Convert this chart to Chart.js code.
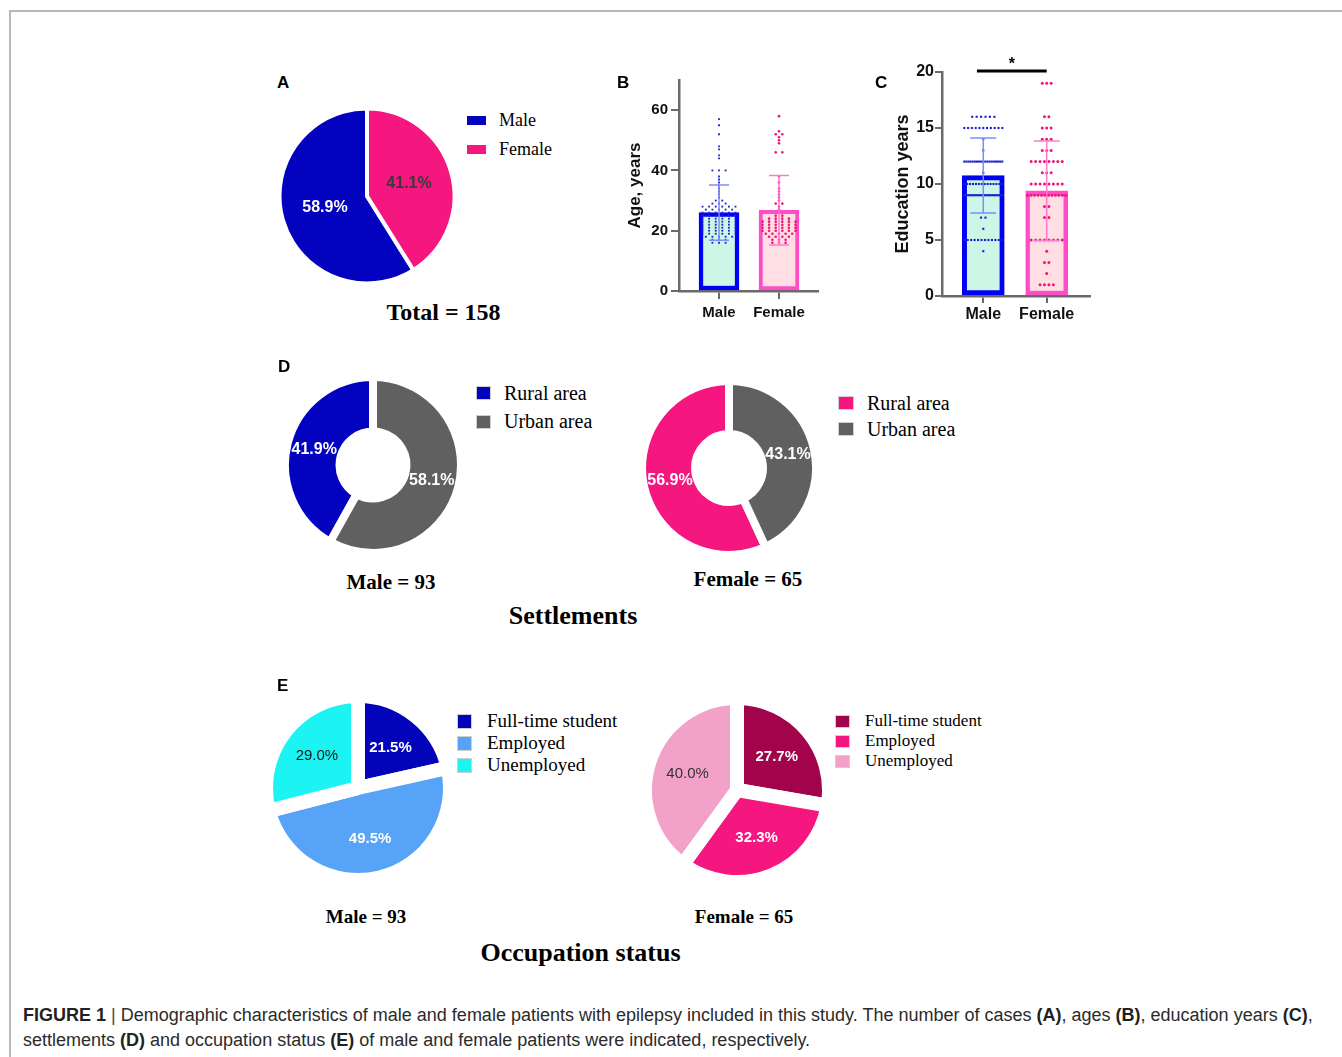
<!DOCTYPE html>
<html>
<head>
<meta charset="utf-8">
<title>Figure 1</title>
<script src="https://cdn.jsdelivr.net/npm/chart.js@4.4.1/dist/chart.umd.min.js"></script>
<style>
  html, body { margin: 0; padding: 0; background: #fff; }
  #fig { position: relative; width: 1342px; height: 1057px; overflow: hidden; background: #fff; }
  #frame { position: absolute; left: 9px; top: 10px; width: 1400px; height: 1100px;
           border-top: 2px solid #b8b8b8; border-left: 2px solid #b8b8b8; }
  canvas { position: absolute; }
  .txt { position: absolute; white-space: nowrap; color: #000; }
  .serif { font-family: "Liberation Serif", "Times New Roman", serif; }
  .sans { font-family: "Liberation Sans", Arial, sans-serif; }
  .row { position: absolute; display: flex; align-items: center; white-space: nowrap;
         font-family: "Liberation Serif", "Times New Roman", serif; color: #000; }
  .sw { display: inline-block; box-sizing: border-box; flex: none; }
  #caption { position: absolute; left: 23px; top: 1003px; width: 1315px; font-family: "Liberation Sans", Arial, sans-serif;
             font-size: 18px; line-height: 25px; color: #2b2b2b; white-space: nowrap; }
  #caption b { color: #222; }
  #caption .sep { color: #444; }
</style>
</head>
<body>
<div id="fig">
  <div id="frame"></div>
  <div id="caption"><b>FIGURE 1</b> <span class="sep">|</span> Demographic characteristics of male and female patients with epilepsy included in this study. The number of cases <b>(A)</b>, ages <b>(B)</b>, education years <b>(C)</b>,<br>settlements <b>(D)</b> and occupation status <b>(E)</b> of male and female patients were indicated, respectively.</div>
</div>
<script>
// ---- data ----
const sexLabels = ['Male', 'Female'];
const sexShare = [58.9, 41.1];
const totalCases = 158;
const groupSizes = [93, 65];

const ageTicks = [0, 20, 40, 60];
const ageMean = [26.0, 26.8];
const ageSd = [9.2, 11.5];
const maleAges = [57, 55, 52, 48, 47, 45, 44, 40, 40, 40, 38, 37, 36, 35, 34, 33, 32, 31, 30, 30, 29, 29, 29,
  28, 28, 28, 28, 28, 28, 27, 27, 27, 27, 27, 26, 26, 26, 26, 26, 26, 25, 25, 25, 25, 25, 25,
  24, 24, 24, 24, 24, 24, 23, 23, 23, 23, 23, 23, 22, 22, 22, 22, 22, 22, 21, 21, 21, 21, 21, 21,
  20, 20, 20, 20, 20, 20, 19, 19, 19, 19, 19, 19, 18, 18, 18, 18, 18, 17, 17, 17, 16, 16, 16];
const femaleAges = [58, 53, 52, 52, 51, 50, 49, 46, 46, 38, 36, 34, 33, 32, 31, 30, 29, 29, 28, 27, 25, 25,
  24, 24, 24, 24, 23, 23, 23, 23, 23, 23, 22, 22, 22, 22, 22, 22, 21, 21, 21, 21, 21, 21,
  20, 20, 20, 20, 20, 20, 19, 19, 19, 19, 19, 18, 18, 18, 18, 17, 17, 17, 16, 16, 16];

const eduTicks = [0, 5, 10, 15, 20];
const eduMean = [10.75, 9.4];
const eduSd = [3.35, 4.45];
const maleEdu = [16, 16, 16, 16, 16, 16, 15, 15, 15, 15, 15, 15, 15, 15, 15, 15, 15, 14, 13,
  12, 12, 12, 12, 12, 12, 12, 12, 12, 12, 12, 12, 12, 12, 12, 12, 12, 12, 12, 11,
  10, 10, 10, 10, 10, 10, 10, 10, 10, 10, 10, 10, 10, 10,
  9, 9, 9, 9, 9, 9, 9, 9, 9, 9, 9, 9, 9, 9, 9, 9, 9, 9, 9, 9, 9, 9, 9, 9,
  7, 7, 6, 5, 5, 5, 5, 5, 5, 5, 5, 5, 5, 5, 5, 4];
const femaleEdu = [19, 19, 19, 16, 16, 15, 15, 15, 14, 14, 14, 13, 13, 13,
  12, 12, 12, 12, 12, 12, 12, 12, 11, 11, 11, 10, 10, 10, 10, 10, 10, 10, 10,
  9, 9, 9, 9, 9, 9, 9, 9, 9, 9, 9, 9, 8, 8, 7, 7, 5, 5, 5, 5, 5, 5, 5, 5, 4, 3, 3, 2, 1, 1, 1, 1];

const areaLabels = ['Rural area', 'Urban area'];
const maleArea = [41.9, 58.1];
const femaleArea = [56.9, 43.1];

const jobLabels = ['Full-time student', 'Employed', 'Unemployed'];
const maleJob = [21.5, 49.5, 29.0];
const femaleJob = [27.7, 32.3, 40.0];

// ---- colours ----
const blue = '#0303BF', pink = '#F5167F', gray = '#606060';
const axisGray = '#6a6a6a';
const barFill = ['#CCF6E6', '#FFDEE4'];
const barEdge = ['#0000F5', '#FF4CC8'];
const dotColors = ['#1E22CC', '#EE1777'];
const errColors = ['#7F8DF7', '#FF7ACF'];

Chart.defaults.font.family = '"Liberation Sans", Arial, sans-serif';
const fig = document.getElementById('fig');

function makeCanvas(left, top, w, h) {
  const c = document.createElement('canvas');
  c.width = w; c.height = h;
  c.style.left = left + 'px'; c.style.top = top + 'px';
  fig.appendChild(c);
  return c;
}

function addText(text, x, baseline, size, cls, weight, align) {
  const d = document.createElement('div');
  d.className = 'txt ' + cls;
  const base = cls === 'serif' ? 0.8375 : 0.8465;
  d.style.fontSize = size + 'px';
  d.style.lineHeight = size + 'px';
  d.style.fontWeight = weight;
  d.style.top = (baseline - base * size) + 'px';
  if (align === 'center') {
    d.style.left = (x - 300) + 'px'; d.style.width = '600px'; d.style.textAlign = 'center';
  } else {
    d.style.left = x + 'px';
  }
  d.textContent = text;
  fig.appendChild(d);
}

function addLegend(left, centers, labels, colors, o) {
  labels.forEach((t, i) => {
    const row = document.createElement('div');
    row.className = 'row';
    row.style.left = left + 'px';
    row.style.top = (centers[i] - o.size / 2) + 'px';
    row.style.height = o.size + 'px';
    row.style.fontSize = o.size + 'px';
    const sw = document.createElement('span');
    sw.className = 'sw';
    sw.style.width = o.w + 'px'; sw.style.height = o.h + 'px';
    sw.style.background = colors[i];
    sw.style.marginRight = o.gap + 'px';
    if (o.edge) sw.style.border = '1px solid #cfcfcf';
    row.appendChild(sw);
    row.appendChild(document.createTextNode(t));
    fig.appendChild(row);
  });
}

// percentage text inside each slice
const sliceLabels = {
  id: 'sliceLabels',
  afterDatasetsDraw(chart, args, o) {
    const ctx = chart.ctx;
    const values = chart.data.datasets[0].data;
    chart.getDatasetMeta(0).data.forEach((arc, i) => {
      const mid = (arc.startAngle + arc.endAngle) / 2;
      const r = o.at ? arc.outerRadius * o.at : (arc.innerRadius + arc.outerRadius) / 2;
      ctx.save();
      ctx.font = `${o.weights[i]} ${o.size}px "Liberation Sans", Arial, sans-serif`;
      ctx.fillStyle = o.colors[i];
      ctx.textAlign = 'center';
      ctx.textBaseline = 'middle';
      ctx.fillText(values[i].toFixed(1) + '%', arc.x + Math.cos(mid) * r, arc.y + Math.sin(mid) * r);
      ctx.restore();
    });
  }
};

// mean +/- SD whiskers
const errorBars = {
  id: 'errorBars',
  afterDatasetsDraw(chart, args, o) {
    const { ctx, scales: { x, y } } = chart;
    o.means.forEach((m, i) => {
      const px = x.getPixelForValue(i);
      const top = y.getPixelForValue(m + o.sds[i]);
      const bot = y.getPixelForValue(m - o.sds[i]);
      ctx.save();
      ctx.strokeStyle = o.colors[i];
      ctx.lineWidth = 1.5;
      ctx.beginPath();
      ctx.moveTo(px, top); ctx.lineTo(px, bot);
      ctx.moveTo(px - o.cap, top); ctx.lineTo(px + o.cap, top);
      ctx.moveTo(px - o.cap, bot); ctx.lineTo(px + o.cap, bot);
      ctx.stroke();
      ctx.restore();
    });
  }
};

// significance bracket
const sigMark = {
  id: 'sigMark',
  afterDraw(chart, args, o) {
    if (!o.text) return;
    const { ctx, scales: { x, y } } = chart;
    const yy = y.getPixelForValue(o.level);
    const x0 = x.getPixelForValue(o.from), x1 = x.getPixelForValue(o.to);
    ctx.save();
    ctx.strokeStyle = '#000';
    ctx.lineWidth = 3;
    ctx.beginPath(); ctx.moveTo(x0, yy); ctx.lineTo(x1, yy); ctx.stroke();
    ctx.fillStyle = '#000';
    ctx.font = 'bold 16px "Liberation Sans", Arial, sans-serif';
    ctx.textAlign = 'center';
    ctx.fillText(o.text, (x0 + x1) / 2, yy - 2);
    ctx.restore();
  }
};

// spread equal values side by side around the group centre
function swarm(values, center, step, maxHalf) {
  const counts = {}, seen = {};
  values.forEach(v => { counts[v] = (counts[v] || 0) + 1; });
  return values.map(v => {
    const n = counts[v];
    const k = seen[v] = (seen[v] || 0) + 1;
    const gap = n > 1 ? Math.min(step, 2 * maxHalf / (n - 1)) : 0;
    return { x: center + (k - 1 - (n - 1) / 2) * gap, y: v };
  });
}

function pieChart(canvas, values, colors, cfg) {
  return new Chart(canvas, {
    type: 'doughnut',
    data: {
      labels: cfg.labels,
      datasets: [{ data: values, backgroundColor: colors, borderColor: '#fff', borderWidth: cfg.gap, hoverOffset: 0, offset: 0 }]
    },
    options: {
      responsive: false, animation: false, events: [],
      rotation: cfg.rotation || 0,
      radius: cfg.radius,
      cutout: cfg.cutout || 0,
      layout: { padding: 0 },
      plugins: {
        legend: { display: false }, tooltip: { enabled: false },
        sliceLabels: { size: cfg.labelSize, colors: cfg.labelColors, weights: cfg.labelWeights, at: cfg.labelAt }
      }
    },
    plugins: [sliceLabels]
  });
}

function dotBarChart(canvas, cfg) {
  const grid = { drawOnChartArea: false, drawTicks: true, tickLength: cfg.tickLen, color: axisGray, lineWidth: 2, offset: false };
  const border = { display: true, color: axisGray, width: 2.5 };
  return new Chart(canvas, {
    type: 'bar',
    data: {
      datasets: [
        { type: 'scatter', data: swarm(cfg.groups[0], 0, cfg.step, 0.3), pointStyle: 'rect', pointRadius: cfg.dot,
          backgroundColor: dotColors[0], borderWidth: 0, order: 1 },
        { type: 'scatter', data: swarm(cfg.groups[1], 1, cfg.step, 0.3), pointStyle: 'circle', pointRadius: cfg.dot,
          backgroundColor: dotColors[1], borderWidth: 0, order: 1 },
        { type: 'bar', data: cfg.means.map((m, i) => ({ x: i, y: m })), backgroundColor: barFill, borderColor: barEdge,
          borderWidth: cfg.barBorder, borderSkipped: false, barThickness: cfg.barWidth, order: 2 }
      ]
    },
    options: {
      responsive: false, animation: false, events: [],
      layout: { padding: cfg.padding },
      plugins: {
        legend: { display: false }, tooltip: { enabled: false },
        errorBars: { means: cfg.means, sds: cfg.sds, colors: errColors, cap: cfg.cap },
        sigMark: cfg.sig || {}
      },
      scales: {
        x: {
          type: 'linear', min: cfg.xRange[0], max: cfg.xRange[1], offset: false, grid, border,
          afterBuildTicks: s => { s.ticks = sexLabels.map((_, i) => ({ value: i })); },
          afterFit: s => { s.height = cfg.xHeight; },
          ticks: { callback: v => sexLabels[v], font: { size: cfg.xFont, weight: 'bold' }, color: '#111',
                   padding: cfg.xPad, maxRotation: 0, autoSkip: false }
        },
        y: {
          min: 0, max: cfg.yMax, grid, border,
          afterBuildTicks: s => { s.ticks = cfg.yTicks.map(v => ({ value: v })); },
          afterFit: s => { s.width = cfg.yWidth; },
          ticks: { font: { size: cfg.yFont, weight: 'bold' }, color: '#111', padding: cfg.yPad },
          title: { display: true, text: cfg.title, font: { size: cfg.titleFont, weight: 'bold' }, color: '#111',
                   padding: { top: 4, bottom: 4 } }
        }
      }
    },
    plugins: [errorBars, sigMark]
  });
}

// ---- A: sex ----
pieChart(makeCanvas(272, 101, 190, 190), sexShare, [blue, pink], {
  labels: sexLabels, gap: 4, radius: 87.5, rotation: sexShare[1] * 3.6,
  labelSize: 16, labelColors: ['#fff', '#3a3a3a'], labelWeights: ['bold', 'bold'], labelAt: 0.5
});
addLegend(467, [120, 149], sexLabels, [blue, pink], { size: 18, w: 19, h: 9, gap: 13 });
addText(`Total = ${totalCases}`, 443.5, 320, 24, 'serif', 'bold', 'center');

// ---- B: age ----
dotBarChart(makeCanvas(621, 60, 209, 270), {
  groups: [maleAges, femaleAges], means: ageMean, sds: ageSd, step: 0.11, cap: 10, dot: 1.3,
  padding: { top: 20, right: 12, left: 0, bottom: 0 }, xRange: [-0.667, 1.65], yMax: 70, yTicks: ageTicks,
  xHeight: 39, yWidth: 58, tickLen: 8, xFont: 15, xPad: 5, yFont: 15, yPad: 3, title: 'Age, years', titleFont: 17,
  barWidth: 40, barBorder: [4.5, 4]
});

// ---- C: education ----
dotBarChart(makeCanvas(888, 40, 212, 300), {
  groups: [maleEdu, femaleEdu], means: eduMean, sds: eduSd, step: 0.07, cap: 13, dot: 1.5,
  padding: { top: 32, right: 10, left: 0, bottom: 0 }, xRange: [-0.651, 1.683], yMax: 20, yTicks: eduTicks,
  xHeight: 44, yWidth: 54, tickLen: 7, xFont: 16, xPad: 2, yFont: 16, yPad: 1, title: 'Education years', titleFont: 18,
  barWidth: 42, barBorder: [5, 4.5],
  sig: { text: '*', level: 20.1, from: -0.1, to: 1.0 }
});

// ---- D: settlements ----
pieChart(makeCanvas(278, 370, 190, 190), maleArea, [blue, gray], {
  labels: areaLabels, gap: 8, radius: 88, cutout: '38%', rotation: maleArea[1] * 3.6,
  labelSize: 16, labelColors: ['#fff', '#fff'], labelWeights: ['bold', 'bold']
});
addLegend(476, [393, 421.5], areaLabels, [blue, gray], { size: 20, w: 15, h: 14, gap: 13, edge: true });
addText(`${sexLabels[0]} = ${groupSizes[0]}`, 391, 590, 21, 'serif', 'bold', 'center');

pieChart(makeCanvas(640, 378, 178, 180), femaleArea, [pink, gray], {
  labels: areaLabels, gap: 8, radius: 87, cutout: '39%', rotation: femaleArea[1] * 3.6,
  labelSize: 16, labelColors: ['#fff', '#fff'], labelWeights: ['bold', 'bold']
});
addLegend(838, [403, 429], areaLabels, [pink, gray], { size: 20, w: 16, h: 14, gap: 13, edge: true });
addText(`${sexLabels[1]} = ${groupSizes[1]}`, 748, 587, 21, 'serif', 'bold', 'center');
addText('Settlements', 573, 625, 26, 'serif', 'bold', 'center');

// ---- E: occupation ----
pieChart(makeCanvas(263, 693, 190, 190), maleJob, ['#0303BA', '#56A3F8', '#1CF3F3'], {
  labels: jobLabels, gap: 14, radius: 92,
  labelSize: 15, labelColors: ['#fff', '#fff', '#1a1a1a'], labelWeights: ['bold', 'bold', 'normal'], labelAt: 0.565
});
addLegend(457, [721, 743, 765], jobLabels, ['#0303BA', '#56A3F8', '#1CF3F3'], { size: 19, w: 15, h: 15, gap: 15, edge: true });
addText(`${sexLabels[0]} = ${groupSizes[0]}`, 366, 923, 19, 'serif', 'bold', 'center');

pieChart(makeCanvas(642, 695, 190, 190), femaleJob, ['#A1044B', '#F5167F', '#F2A2C8'], {
  labels: jobLabels, gap: 14, radius: 92,
  labelSize: 15, labelColors: ['#fff', '#fff', '#333'], labelWeights: ['bold', 'bold', 'normal'], labelAt: 0.565
});
addLegend(835, [721, 741, 761], jobLabels, ['#A1044B', '#F5167F', '#F2A2C8'], { size: 17, w: 15, h: 13, gap: 15, edge: true });
addText(`${sexLabels[1]} = ${groupSizes[1]}`, 744, 923, 19, 'serif', 'bold', 'center');
addText('Occupation status', 580.5, 962, 26, 'serif', 'bold', 'center');

// ---- panel letters ----
[['A', 277, 88], ['B', 617, 88], ['C', 875, 88], ['D', 278, 372], ['E', 277, 691]].forEach(([t, x, b]) => {
  addText(t, x, b, 17, 'sans', 'bold', 'left');
});
</script>
</body>
</html>
